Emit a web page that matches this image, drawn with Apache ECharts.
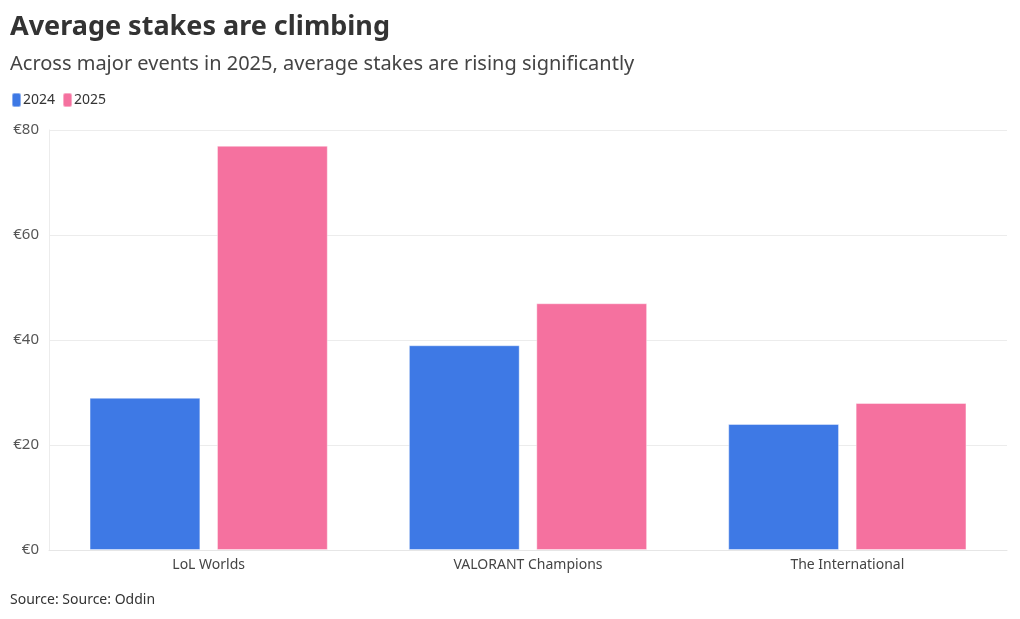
<!DOCTYPE html>
<html>
<head>
<meta charset="utf-8">
<script src="https://cdn.jsdelivr.net/npm/echarts@6/dist/echarts.min.js"></script>
<style>html,body{margin:0;padding:0;background:#fff;}#chart{width:1020px;height:619px;}</style>
</head>
<body>
<div id="chart"></div>
<script>
const categories = ['LoL Worlds', 'VALORANT Champions', 'The International'];
const values2024 = [29, 39, 24];
const values2025 = [77, 47, 28];
const yTicks = [0, 20, 40, 60, 80];

const FONT = '"Noto Sans", "Open Sans", sans-serif';
const chart = echarts.init(document.getElementById('chart'));
chart.setOption({
  backgroundColor: '#fff',
  animation: false,
  textStyle: { fontFamily: FONT },
  title: [
    { text: 'Average stakes are climbing', left: 10, top: 14, padding: 0,
      textStyle: { fontFamily: FONT, fontSize: 27, fontWeight: 'bold', color: '#333' } },
    { text: 'Across major events in 2025, average stakes are rising significantly', left: 10, top: 54, padding: 0,
      textStyle: { fontFamily: FONT, fontSize: 20, fontWeight: 'normal', color: '#444' } },
    { text: 'Source: Source: Oddin', left: 10, top: 593, padding: 0,
      textStyle: { fontFamily: FONT, fontSize: 14, fontWeight: 'normal', color: '#333' } }
  ],
  legend: {
    left: 11, top: 92, padding: 0,
    itemWidth: 9, itemHeight: 14, itemGap: 7,
    icon: 'roundRect',
    textStyle: { fontFamily: FONT, fontSize: 14, color: '#333', padding: [0, 0, 0, -3] },
    data: ['2024', '2025']
  },
  grid: { left: 49, right: 13, top: 130, bottom: 69, containLabel: false },
  xAxis: {
    type: 'category',
    data: categories,
    axisLine: { show: true, lineStyle: { color: '#e6e6e6' } },
    axisTick: { show: false },
    axisLabel: { fontFamily: FONT, fontSize: 14, color: '#444', margin: 8 }
  },
  yAxis: {
    type: 'value',
    min: 0, max: 80, interval: 20,
    axisLine: { show: true, lineStyle: { color: '#ececec' } },
    axisTick: { show: false },
    splitLine: { lineStyle: { color: '#ececec' } },
    axisLabel: { fontFamily: FONT, fontSize: 15, color: '#555', margin: 10,
      formatter: v => '€' + v }
  },
  series: [
    { name: '2024', type: 'bar', data: values2024, barWidth: '34.7%', barGap: '15%',
      itemStyle: { color: '#3e79e5', borderColor: 'rgba(255,255,255,0.4)', borderWidth: 1 },
      color: '#1a5fd8' },
    { name: '2025', type: 'bar', data: values2025, barWidth: '34.7%', barGap: '15%',
      itemStyle: { color: '#f5719f', borderColor: 'rgba(255,255,255,0.4)', borderWidth: 1 },
      color: '#ef4f8a' }
  ]
});
</script>
</body>
</html>
